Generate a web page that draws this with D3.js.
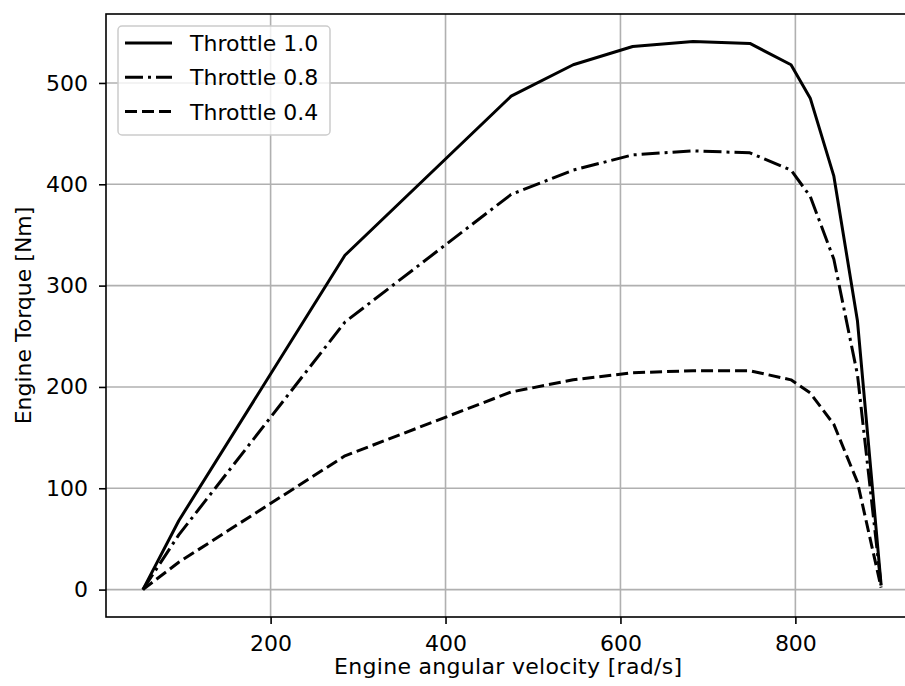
<!DOCTYPE html>
<html>
<head>
<meta charset="utf-8">
<script src="https://cdn.jsdelivr.net/npm/d3@7"></script>
<style>
  body { margin: 0; background: #fff; }
  text { font-family: "DejaVu Sans", sans-serif; fill: #000; }
</style>
</head>
<body>
<div id="vis"></div>
<script>
// engine torque curves

var omega = [54, 95, 285, 475, 546, 614, 683, 748, 795, 817, 844, 871, 898];
var torque10 = [0, 68, 330, 487, 518, 536, 541, 539, 518, 485, 408, 265, 5];
var torque08 = [0, 54, 264, 390, 414, 429, 433, 431, 414, 388, 326, 212, 4];
var torque04 = [0, 27, 132, 195, 207, 214, 216, 216, 207, 194, 163, 106, 2];

var seriesNames = ['Throttle 1.0', 'Throttle 0.8', 'Throttle 0.4'];
var seriesValues = [torque10, torque08, torque04];
var xTicks = [200, 400, 600, 800];
var yTicks = [0, 100, 200, 300, 400, 500];

var W = 905, H = 686;
// plot box (note: "top" is taken by window.top)
var pL = 106, pR = 918, pT = 14, pB = 617;
var fs = 22;
var dashes = [null, '18,5,3,5', '12,5'];

var svg = d3.select('#vis').append('svg')
  .attr('width', W)
  .attr('height', H);

// matplotlib style 5% margins
var xExt = d3.extent(omega);
var xPad = (xExt[1] - xExt[0]) * 0.05;
var yMax = d3.max(torque10), yMin = 0;
var yPad = (yMax - yMin) * 0.05;

var x = d3.scaleLinear().domain([xExt[0] - xPad, xExt[1] + xPad]).range([pL, pR]);
var y = d3.scaleLinear().domain([yMin - yPad, yMax + yPad]).range([pB, pT]);

// grid
var grid = svg.append('g');
grid.selectAll('.gx').data(xTicks).enter().append('line')
  .attr('x1', d => x(d)).attr('x2', d => x(d))
  .attr('y1', pT).attr('y2', pB)
  .attr('stroke', '#b0b0b0').attr('stroke-width', 1.6);
grid.selectAll('.gy').data(yTicks).enter().append('line')
  .attr('x1', pL).attr('x2', pR)
  .attr('y1', d => y(d)).attr('y2', d => y(d))
  .attr('stroke', '#b0b0b0').attr('stroke-width', 1.6);

// curves
var line = d3.line()
  .x((d, i) => x(omega[i]))
  .y(d => y(d));

seriesValues.forEach(function(vals, k) {
  svg.append('path')
    .attr('d', line(vals))
    .attr('fill', 'none')
    .attr('stroke', '#000')
    .attr('stroke-width', 3)
    .attr('stroke-linejoin', 'round')
    .attr('stroke-dasharray', dashes[k]);
});

// axes
var xAxis = svg.append('g')
  .attr('transform', 'translate(0,' + pB + ')')
  .call(d3.axisBottom(x).tickValues(xTicks).tickSize(7).tickPadding(11).tickSizeOuter(0));
var yAxis = svg.append('g')
  .attr('transform', 'translate(' + pL + ',0)')
  .call(d3.axisLeft(y).tickValues(yTicks).tickSize(7).tickPadding(11).tickSizeOuter(0));

[xAxis, yAxis].forEach(function(a) {
  a.select('.domain').remove();
  a.selectAll('line').attr('stroke', '#000').attr('stroke-width', 1.6);
  a.selectAll('text').attr('font-size', fs).attr('font-family', '"DejaVu Sans", sans-serif').attr('fill', '#000');
});

// spines
svg.append('rect')
  .attr('x', pL).attr('y', pT)
  .attr('width', pR - pL).attr('height', pB - pT)
  .attr('fill', 'none').attr('stroke', '#000').attr('stroke-width', 1.6);

// axis labels
svg.append('text')
  .attr('x', 508).attr('y', 674)
  .attr('text-anchor', 'middle')
  .attr('font-size', fs)
  .attr('textLength', 348)
  .text('Engine angular velocity [rad/s]');

svg.append('text')
  .attr('transform', 'translate(31,' + ((pT + pB) / 2) + ') rotate(-90)')
  .attr('text-anchor', 'middle')
  .attr('font-size', fs)
  .text('Engine Torque [Nm]');

// legend
var lg = svg.append('g');
lg.append('rect')
  .attr('x', 118).attr('y', 26)
  .attr('width', 212).attr('height', 109)
  .attr('rx', 4)
  .attr('fill', '#fff').attr('fill-opacity', 0.8)
  .attr('stroke', '#cccccc').attr('stroke-width', 1.5);

seriesNames.forEach(function(name, k) {
  var ly = 43 + k * 34.3;
  lg.append('line')
    .attr('x1', 125).attr('x2', 172)
    .attr('y1', ly).attr('y2', ly)
    .attr('stroke', '#000').attr('stroke-width', 3)
    .attr('stroke-dasharray', dashes[k]);
  lg.append('text')
    .attr('x', 190).attr('y', ly)
    .attr('dy', '0.36em')
    .attr('font-size', fs)
    .text(name);
});
</script>
</body>
</html>
